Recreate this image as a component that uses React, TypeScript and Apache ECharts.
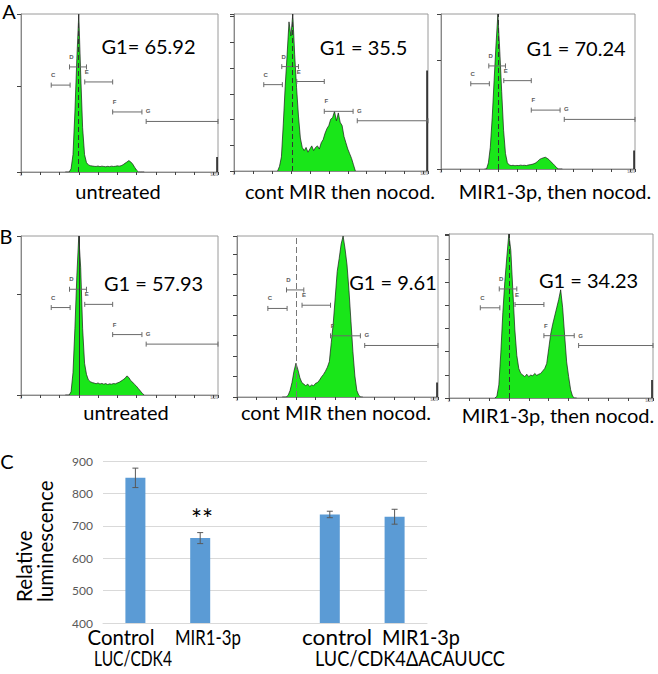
import React, { useEffect, useRef } from "react";
import * as echarts from "echarts";

// ---------- histogram data (channel bins, counts as % of panel height) ----------
const BINS = [230, 240, 250, 260, 270, 280, 290, 300, 310, 320, 330, 340, 350, 360, 370, 380, 390, 400, 410, 420, 430, 440, 450, 460, 470, 480, 490, 500, 510, 520, 530, 540, 550, 560, 570, 580, 590, 600, 610, 620, 630, 640];

const HIST_A1 = [0, 0, 0, 2, 11, 38, 72, 100, 62, 28, 11, 6, 4.5, 4, 3.8, 3.6, 3.5, 3.8, 3.4, 3.7, 3.5, 3.3, 3.6, 3.4, 3.7, 3.5, 3.6, 3.9, 3.7, 4, 4.6, 5.5, 6.3, 7.2, 6.4, 5, 3, 1.2, 0, 0, 0, 0];
const HIST_A2 = [0, 3, 9, 30, 54, 74, 95, 86, 100, 74, 53, 35, 21, 15, 13, 15, 12, 14, 16, 13, 15, 16, 14, 18, 20, 24, 27, 29, 33, 34, 38, 32, 37, 31, 29, 22, 18, 14, 11, 8, 4, 0];
const HIST_A3 = [0, 0, 4, 14, 33, 57, 80, 100, 76, 50, 25, 10, 4, 2.6, 2.2, 2.4, 2.1, 2.3, 2.2, 2.5, 2.3, 2.4, 2.2, 2.6, 2.8, 3, 3.4, 4, 5, 6.2, 6.8, 7.2, 7.6, 6.9, 6, 4.6, 3.5, 2.2, 0.8, 0, 0, 0];
const HIST_B1 = [0, 0, 0, 2, 14, 42, 75, 100, 80, 42, 20, 13, 9.5, 8.4, 7.8, 7.5, 7.1, 7.6, 6.9, 7.3, 6.8, 7.2, 6.6, 7, 6.8, 7.2, 7, 7.6, 8, 8.8, 9.6, 10.5, 12, 11, 9, 8, 6.6, 5.5, 4, 2.5, 1, 0];
const HIST_B2 = [0, 0, 0, 1, 4, 9, 16, 21, 17, 12, 9, 8, 7, 8, 6.5, 7.5, 7, 8.5, 9, 10.5, 12.5, 14, 16, 18.5, 22, 34, 46, 62, 78, 86, 95, 100, 92, 82, 66, 47, 28, 13, 4, 1, 0, 0];
const HIST_B3 = [0, 1, 8, 28, 52, 71, 86, 100, 90, 66, 42, 26, 18, 15, 14, 13, 14.5, 13, 14, 13.5, 15, 13.8, 14.5, 15, 16.5, 18, 21, 30, 39, 45, 50, 55, 60, 66, 55, 38, 22, 13, 5, 1, 0, 0];

const HISTS = [HIST_A1, HIST_A2, HIST_A3, HIST_B1, HIST_B2, HIST_B3];
const G1_LABELS = ["G1= 65.92", "G1 = 35.5", "G1 = 70.24", "G1 = 57.93", "G1 = 9.61", "G1 = 34.23"];
const CAPTIONS = ["untreated", "cont MIR then nocod.", "MIR1-3p, then nocod.", "untreated", "cont MIR then nocod.", "MIR1-3p, then nocod."];
const PEAK_MARKERS = [298, 306, 300, 301, 300, 301];
const PEAK_LINE_TYPES: any[] = [[5, 3], [5, 3], [5, 3], "solid", [6, 3], [5, 3]];
const PEAK_LINE_COLORS = ["#333", "#333", "#333", "#333", "#777", "#333"];
const END_SPIKE_CHANNEL = 1018;
const END_SPIKES = [9.5, 64, 12, 0, 9, 11];
const Y_TICK_STEP = [54, 16.4, 70, 63.5, 12.7, 14.15];

// gates (channels) and their levels (% of panel height)
const GATE_NAMES = ["C", "D", "E", "F", "G"];
const GATE_START = [157, 252, 331, 476, 650];
const GATE_END = [255, 340, 476, 628, 1023];
const GATE_LEVEL = [55, 66.5, 57, 38, 32];

// ---------- bar chart data ----------
const BAR_CATEGORIES = ["Control", "MIR1-3p", "", "control", "MIR1-3p"];
const BAR_VALUES = [848, 662, null, 735, 728];
const BAR_ERRORS = [30, 17, null, 10, 23];
const GROUP_LABELS = ["LUC/CDK4", "LUC/CDK4\u0394ACAUUCC"];
const Y_NAME = ["Relative", "luminescence"];
const SIGNIFICANCE = "**";

// ---------- layout ----------
const FONT = "Lato, 'Noto Sans', sans-serif";
const HIST_GRIDS = [
  { left: 21, top: 14, width: 197, height: 158 },
  { left: 234, top: 14, width: 194, height: 157 },
  { left: 441, top: 14, width: 194, height: 155 },
  { left: 21, top: 236, width: 197, height: 159 },
  { left: 237, top: 236, width: 201, height: 161 },
  { left: 449, top: 234, width: 204, height: 164 },
];
const G1_POS = [[148.5, 46], [363.5, 47], [576, 48], [153.5, 283], [393, 282], [588.5, 280]];
const CAPTION_POS = [[118, 191], [340, 191], [555, 191], [126, 412], [336, 412], [558, 415]];
const BAR_LABEL_POS = [[121, 637], [208, 637], null, [337, 637], [421, 637]];
const BAR_LABEL_W = [67, 66, null, 70, 78];
const GROUP_POS = [[133, 658], [410, 658]];
const GROUP_W = [78, 190];

let measureCtx: CanvasRenderingContext2D | null = null;
function textWidth(text: string, size: number) {
  if (!measureCtx) measureCtx = document.createElement("canvas").getContext("2d");
  if (!measureCtx) return 0;
  measureCtx.font = `${size}px ${FONT}`;
  return measureCtx.measureText(text).width;
}

function txt(text: string, x: number, y: number, size: number, extra: any = {}, targetW?: number) {
  let scaleX = 1;
  if (targetW) {
    const w = textWidth(text, size);
    if (w > 0) scaleX = targetW / w;
  }
  return {
    type: "text",
    x,
    y,
    scaleX,
    silent: true,
    ...extra,
    style: { text, fontSize: size, lineHeight: Math.round(size * 0.8), fontFamily: FONT, fill: "#000", align: "center", verticalAlign: "middle", ...(extra.style || {}) },
  };
}

function buildOption() {
  const grid: any[] = [];
  const xAxis: any[] = [];
  const yAxis: any[] = [];
  const series: any[] = [];

  HISTS.forEach((h, i) => {
    grid.push({ ...HIST_GRIDS[i], show: true, borderColor: "#9a9a9a", borderWidth: 1, backgroundColor: "#fff" });
    xAxis.push({
      type: "value", gridIndex: i, min: 0, max: 1023, interval: 100,
      axisLine: { show: true, lineStyle: { color: "#888" } },
      axisTick: { show: true, length: 3, lineStyle: { color: "#444" } },
      axisLabel: { show: true, fontSize: 3.5, lineHeight: 3.5, color: "#444", margin: 1.5, alignMaxLabel: "right", formatter: (v: number) => (v === 0 || v === 1023 ? String(v) : "") },
      splitLine: { show: false },
    });
    yAxis.push({
      type: "value", gridIndex: i, min: 0, max: 100, interval: Y_TICK_STEP[i],
      axisLine: { show: true, lineStyle: { color: "#888" } },
      axisTick: { show: true, length: 4, lineStyle: { color: "#444" } },
      axisLabel: { show: false },
      splitLine: { show: false },
    });
    series.push({
      type: "line", xAxisIndex: i, yAxisIndex: i,
      data: BINS.map((b, k) => [b, h[k]]),
      symbol: "none",
      lineStyle: { color: "#1a1a1a", width: 0.7 },
      areaStyle: { color: "#19e619", opacity: 1 },
      markLine: {
        silent: true, symbol: ["none", "none"], label: { show: false },
        lineStyle: { type: PEAK_LINE_TYPES[i], color: PEAK_LINE_COLORS[i], width: 1 },
        data: [{ xAxis: PEAK_MARKERS[i] }],
      },
      z: 2,
    });
    series.push({
      type: "line", xAxisIndex: i, yAxisIndex: i,
      data: [[END_SPIKE_CHANNEL, 0], [END_SPIKE_CHANNEL, END_SPIKES[i]]],
      symbol: "none",
      lineStyle: { color: "#111", width: 1.5 },
      z: 3,
    });
    series.push({
      type: "custom", xAxisIndex: i, yAxisIndex: i,
      data: GATE_NAMES.map((_, g) => [GATE_START[g], GATE_END[g], GATE_LEVEL[g], g]),
      encode: { x: [0, 1], y: 2 },
      z: 4,
      renderItem: (params: any, api: any) => {
        const p1 = api.coord([api.value(0), api.value(2)]);
        const p2 = api.coord([api.value(1), api.value(2)]);
        const name = GATE_NAMES[api.value(3)];
        const st = { stroke: "#6a6a6a", lineWidth: 1 };
        return {
          type: "group",
          children: [
            { type: "line", shape: { x1: p1[0], y1: p1[1], x2: p2[0], y2: p2[1] }, style: st },
            { type: "line", shape: { x1: p1[0], y1: p1[1] - 2.5, x2: p1[0], y2: p1[1] + 2.5 }, style: st },
            { type: "line", shape: { x1: p2[0], y1: p2[1] - 2.5, x2: p2[0], y2: p2[1] + 2.5 }, style: st },
            {
              type: "text",
              style: { text: name, x: p1[0] + 2, y: p1[1] - 10, fontSize: 6, lineHeight: 6, fontWeight: "bold", fontFamily: "Liberation Sans, Arial, sans-serif", fill: "#5a5a5a", align: "center", verticalAlign: "middle" },
            },
          ],
        };
      },
    });
  });

  // ---- bar chart ----
  const bi = HISTS.length;
  grid.push({ left: 103, top: 461, width: 324, height: 162 });
  xAxis.push({
    type: "category", gridIndex: bi, data: BAR_CATEGORIES,
    axisLine: { show: true, lineStyle: { color: "#d9d9d9" } },
    axisTick: { show: false }, axisLabel: { show: false },
  });
  yAxis.push({
    type: "value", gridIndex: bi, min: 400, max: 900, interval: 100,
    axisLine: { show: false }, axisTick: { show: false },
    axisLabel: { fontSize: 12, color: "#595959", margin: 10, fontFamily: FONT },
    splitLine: { lineStyle: { color: "#d9d9d9" } },
  });
  series.push({
    type: "bar", xAxisIndex: bi, yAxisIndex: bi,
    data: BAR_VALUES.map((v) => (v == null ? "-" : v)),
    barWidth: 20,
    itemStyle: { color: "#5b9bd5" },
  });
  series.push({
    type: "custom", xAxisIndex: bi, yAxisIndex: bi, z: 5,
    data: BAR_VALUES.map((v, k) => (v == null ? null : [k, v - (BAR_ERRORS[k] as number), v + (BAR_ERRORS[k] as number)])).filter((d) => d !== null),
    encode: { x: 0, y: [1, 2] },
    renderItem: (params: any, api: any) => {
      const top = api.coord([api.value(0), api.value(2)]);
      const bot = api.coord([api.value(0), api.value(1)]);
      const w = 3;
      const st = { stroke: "#595959", lineWidth: 1 };
      return {
        type: "group",
        children: [
          { type: "line", shape: { x1: top[0], y1: top[1], x2: bot[0], y2: bot[1] }, style: st },
          { type: "line", shape: { x1: top[0] - w, y1: top[1], x2: top[0] + w, y2: top[1] }, style: st },
          { type: "line", shape: { x1: bot[0] - w, y1: bot[1], x2: bot[0] + w, y2: bot[1] }, style: st },
        ],
      };
    },
  });

  const graphic: any[] = [];
  graphic.push(txt("A", 9, 11, 20));
  graphic.push(txt("B", 6, 236, 20));
  graphic.push(txt("C", 7, 461, 20));
  G1_LABELS.forEach((t, i) => graphic.push(txt(t, G1_POS[i][0], G1_POS[i][1], 20)));
  CAPTIONS.forEach((t, i) => graphic.push(txt(t, CAPTION_POS[i][0], CAPTION_POS[i][1], 20)));
  BAR_CATEGORIES.forEach((t, i) => {
    const p = BAR_LABEL_POS[i];
    if (t && p) graphic.push(txt(t, p[0], p[1], 20.5, {}, BAR_LABEL_W[i] as number));
  });
  GROUP_LABELS.forEach((t, i) => graphic.push(txt(t, GROUP_POS[i][0], GROUP_POS[i][1], 20.5, {}, GROUP_W[i])));
  graphic.push(txt(Y_NAME[0], 24, 602, 20.5, { rotation: Math.PI / 2, style: { align: "left" } }));
  graphic.push(txt(Y_NAME[1], 45, 602, 20.5, { rotation: Math.PI / 2, style: { align: "left" } }));
  graphic.push(txt(SIGNIFICANCE, 202, 519, 26));

  return { animation: false, backgroundColor: "#fff", grid, xAxis, yAxis, series, graphic };
}

export default function App() {
  const ref = useRef<HTMLDivElement>(null);
  useEffect(() => {
    const chart = echarts.init(ref.current as HTMLDivElement, null, { renderer: "svg" });
    chart.setOption(buildOption() as any);
    return () => chart.dispose();
  }, []);
  return <div ref={ref} style={{ position: "fixed", left: 0, top: 0, width: 658, height: 674, background: "#fff" }} />;
}
